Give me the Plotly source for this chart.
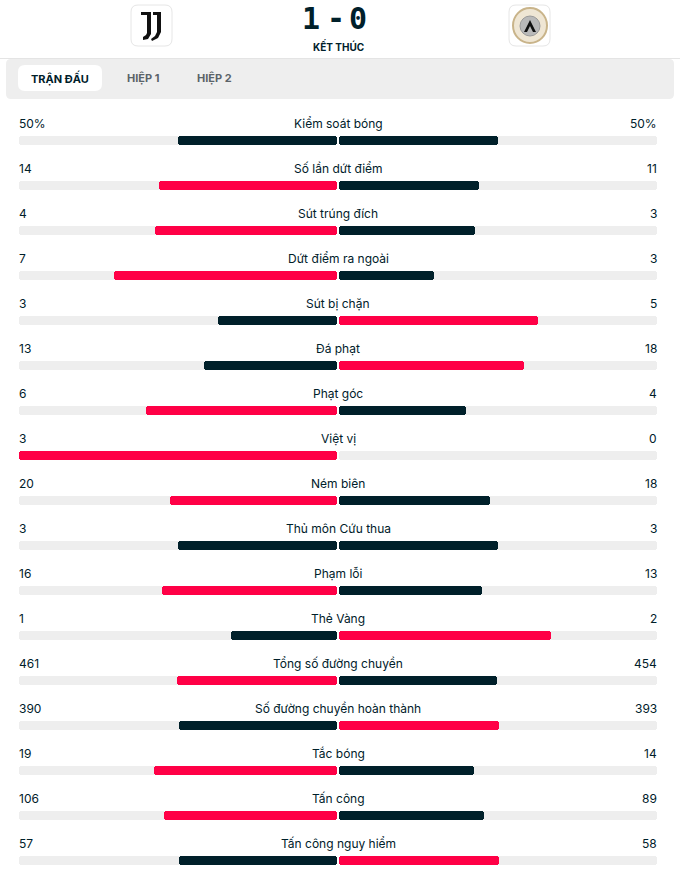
import plotly.graph_objects as go

# ---- data ----
stat_names = ["Kiểm soát bóng", "Số lần dứt điểm", "Sút trúng đích", "Dứt điểm ra ngoài",
              "Sút bị chặn", "Đá phạt", "Phạt góc", "Việt vị", "Ném biên",
              "Thủ môn Cứu thua", "Phạm lỗi", "Thẻ Vàng", "Tổng số đường chuyền",
              "Số đường chuyền hoàn thành", "Tắc bóng", "Tấn công", "Tấn công nguy hiểm"]
home_values = [50, 14, 4, 7, 3, 13, 6, 3, 20, 3, 16, 1, 461, 390, 19, 106, 57]
away_values = [50, 11, 3, 3, 5, 18, 4, 0, 18, 3, 13, 2, 454, 393, 14, 89, 58]
value_suffix = ["%"] + [""] * 16
home_score = 1
away_score = 0
status_text = "KẾT THÚC"
tab_labels = ["TRẬN ĐẤU", "HIỆP 1", "HIỆP 2"]

# ---- style ----
W, H = 680, 881
DARK = "#00202a"
RED = "#ff0046"
GREY = "#eeeeee"
CENTER = 338
HALF = 318
FONT = "Inter"
ROW0_LABEL, ROW0_BAR, ROW_STEP, BAR_H = 123.5, 140.5, 45, 9

def px(x):
    return x / W

def py(y):
    return 1 - y / H

gap = 1 / HALF
fig = go.Figure()

ys = [ROW0_BAR + ROW_STEP * i for i in range(len(stat_names))]

# background tracks
fig.add_trace(go.Bar(y=ys, x=[-1] * len(ys), base=[-gap] * len(ys), orientation="h",
                     marker=dict(color=GREY, line=dict(width=0)), width=BAR_H,
                     hoverinfo="skip", showlegend=False))
fig.add_trace(go.Bar(y=ys, x=[1] * len(ys), base=[gap] * len(ys), orientation="h",
                     marker=dict(color=GREY, line=dict(width=0)), width=BAR_H,
                     hoverinfo="skip", showlegend=False))

home_share, away_share, home_col, away_col = [], [], [], []
for h, a in zip(home_values, away_values):
    tot = h + a
    home_share.append(-(h / tot) if tot else 0)
    away_share.append((a / tot) if tot else 0)
    home_col.append(RED if h > a else DARK)
    away_col.append(RED if a > h else DARK)

fig.add_trace(go.Bar(y=ys, x=home_share, base=[-gap] * len(ys), orientation="h",
                     marker=dict(color=home_col, line=dict(width=0)), width=BAR_H,
                     customdata=home_values, hovertemplate="%{customdata}<extra></extra>",
                     showlegend=False))
fig.add_trace(go.Bar(y=ys, x=away_share, base=[gap] * len(ys), orientation="h",
                     marker=dict(color=away_col, line=dict(width=0)), width=BAR_H,
                     customdata=away_values, hovertemplate="%{customdata}<extra></extra>",
                     showlegend=False))

ann = []
for i, name in enumerate(stat_names):
    yl = ROW0_LABEL + ROW_STEP * i
    ann.append(dict(x=px(CENTER), y=py(yl), xref="paper", yref="paper", text=name,
                    showarrow=False, xanchor="center", yanchor="middle",
                    font=dict(family=FONT, size=12, color=DARK)))
    ann.append(dict(x=px(17), y=py(yl), xref="paper", yref="paper",
                    text=f"{home_values[i]}{value_suffix[i]}", showarrow=False,
                    xanchor="left", yanchor="middle",
                    font=dict(family=FONT, size=12, color=DARK)))
    ann.append(dict(x=px(659), y=py(yl), xref="paper", yref="paper",
                    text=f"{away_values[i]}{value_suffix[i]}", showarrow=False,
                    xanchor="right", yanchor="middle",
                    font=dict(family=FONT, size=12, color=DARK)))

# header texts
score_font = dict(family="DejaVu Sans Mono", size=30, color=DARK)
for xx, t in ((311, str(home_score)), (336, "-"), (358, str(away_score))):
    ann.append(dict(x=px(xx), y=py(19), xref="paper", yref="paper", text=f"<b>{t}</b>",
                    showarrow=False, xanchor="center", yanchor="middle", font=score_font))
ann.append(dict(x=px(338), y=py(46), xref="paper", yref="paper", text=f"<b>{status_text}</b>",
                showarrow=False, xanchor="center", yanchor="middle",
                font=dict(family=FONT, size=10, color=DARK)))
tab_x = [60, 143, 214]
for j, t in enumerate(tab_labels):
    ann.append(dict(x=px(tab_x[j]), y=py(78), xref="paper", yref="paper",
                    text=f"<b>{t}</b>", showarrow=False,
                    xanchor="center", yanchor="middle",
                    font=dict(family=FONT, size=11,
                              color=DARK if j == 0 else "#5b6368")))

def rrect(x0, y0, x1, y1, r):
    def P(x, y):
        return f"{px(x)},{py(y)}"
    return (f"M {P(x0 + r, y0)} L {P(x1 - r, y0)} Q {P(x1, y0)} {P(x1, y0 + r)} "
            f"L {P(x1, y1 - r)} Q {P(x1, y1)} {P(x1 - r, y1)} L {P(x0 + r, y1)} "
            f"Q {P(x0, y1)} {P(x0, y1 - r)} L {P(x0, y0 + r)} Q {P(x0, y0)} {P(x0 + r, y0)} Z")

def poly(points):
    return "M " + " L ".join(f"{px(x)},{py(y)}" for x, y in points) + " Z"

shapes = []
shapes.append(dict(type="line", xref="paper", yref="paper", x0=0, x1=1, y0=py(58.5), y1=py(58.5),
                   line=dict(color="#e4e4e4", width=1)))
shapes.append(dict(type="path", xref="paper", yref="paper", path=rrect(6, 59, 674, 99, 5),
                   fillcolor=GREY, line=dict(width=0), layer="below"))
shapes.append(dict(type="path", xref="paper", yref="paper", path=rrect(18, 65, 102, 91, 7),
                   fillcolor="white", line=dict(width=0), layer="below"))
for bx in (131, 509):
    shapes.append(dict(type="path", xref="paper", yref="paper", path=rrect(bx, 5, bx + 41, 46, 7),
                       fillcolor="white", line=dict(color="#e6e6e6", width=1)))
# Juventus-like mark
shapes.append(dict(type="path", xref="paper", yref="paper",
                   path=poly([(141, 12), (151, 12), (151, 34), (148, 39), (143, 40), (143, 37),
                              (146, 35), (147, 33), (147, 15), (141, 15)]),
                   fillcolor="#111111", line=dict(width=0)))
shapes.append(dict(type="path", xref="paper", yref="paper",
                   path=poly([(153, 12), (161, 12), (161, 32), (158, 38), (152, 41), (151, 39),
                              (155, 36), (157, 32), (157, 15), (153, 15)]),
                   fillcolor="#111111", line=dict(width=0)))
# Udinese-like badge
shapes.append(dict(type="circle", xref="paper", yref="paper", x0=px(513), x1=px(547),
                   y0=py(43), y1=py(8), fillcolor="#efe6d4", line=dict(color="#c9b48a", width=2)))
shapes.append(dict(type="circle", xref="paper", yref="paper", x0=px(520), x1=px(540),
                   y0=py(36), y1=py(16), fillcolor="#b9b9b9", line=dict(color="#9a9a9a", width=1)))
shapes.append(dict(type="path", xref="paper", yref="paper",
                   path=poly([(524, 32), (530, 20), (536, 32), (533, 32), (530, 26), (527, 32)]),
                   fillcolor="#111111", line=dict(width=0)))

fig.update_layout(
    width=W, height=H, margin=dict(l=0, r=0, t=0, b=0),
    paper_bgcolor="white", plot_bgcolor="white",
    barmode="overlay", barcornerradius=3, bargap=0,
    xaxis=dict(range=[-CENTER / HALF, (W - CENTER) / HALF], visible=False, fixedrange=True),
    yaxis=dict(range=[H, 0], visible=False, fixedrange=True),
    annotations=ann, shapes=shapes, showlegend=False,
)

fig.write_html("out.html", config={"displayModeBar": False},
               post_script="document.body.style.margin='0';document.body.style.overflow='hidden';")
